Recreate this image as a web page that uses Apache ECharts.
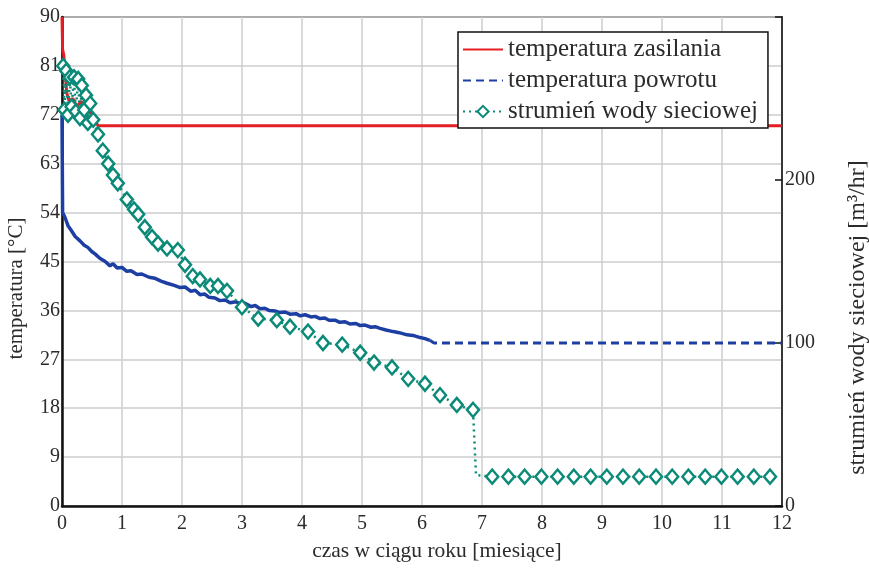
<!DOCTYPE html>
<html>
<head>
<meta charset="utf-8">
<script src="https://cdn.jsdelivr.net/npm/echarts@6/dist/echarts.min.js"></script>
<style>
html,body{margin:0;padding:0;background:#fff;}
#c{width:869px;height:568px;}
</style>
</head>
<body>
<div id="c"></div>
<script>
// ---- data (months, °C, m3/hr) ----
const xTicks = [0,1,2,3,4,5,6,7,8,9,10,11,12];
const leftTicks = [0,9,18,27,36,45,54,63,72,81,90];
const rightTicks = [0,100,200];

const supplyX = [0, 0.01, 0.03, 0.05, 0.08, 0.12, 0.18, 0.25, 0.32, 0.40, 0.48, 0.55, 0.60, 12];
const supplyY = [90, 84, 83, 80, 76, 74.5, 75, 73.5, 74.5, 73, 72.5, 71, 70, 70];

// measured (noisy) part of return temperature
const returnX = [0, 0.01, 0.05, 0.10, 0.15, 0.22, 0.30, 0.37, 0.43, 0.50, 0.55, 0.63, 0.72, 0.80, 0.85, 0.92, 1.00, 1.08, 1.15, 1.25, 1.33, 1.45, 1.55, 1.65, 1.75, 1.87, 1.97, 2.05, 2.15, 2.22, 2.30, 2.38, 2.45, 2.55, 2.63, 2.72, 2.80, 2.90, 2.97, 3.05, 3.15, 3.22, 3.30, 3.38, 3.45, 3.55, 3.63, 3.72, 3.80, 3.90, 3.97, 4.05, 4.15, 4.22, 4.30, 4.38, 4.45, 4.55, 4.63, 4.72, 4.80, 4.90, 4.97, 5.05, 5.15, 5.22, 5.30, 5.40, 5.52, 5.62, 5.75, 5.85, 5.97, 6.05, 6.13];
const returnY = [72, 54, 53.1, 51.6, 50.8, 49.6, 48.8, 48.0, 47.6, 46.8, 46.4, 45.6, 45.0, 44.2, 44.6, 43.8, 43.9, 43.2, 43.3, 42.6, 42.7, 42.1, 41.9, 41.4, 41.0, 40.6, 40.2, 40.3, 39.5, 39.7, 38.9, 39.0, 38.4, 38.3, 37.8, 37.9, 37.4, 37.6, 37.2, 37.3, 36.7, 36.9, 36.3, 36.4, 36.0, 35.9, 35.6, 35.7, 35.3, 35.4, 35.0, 35.2, 34.8, 34.9, 34.5, 34.6, 34.2, 34.2, 33.8, 33.9, 33.5, 33.6, 33.2, 33.3, 32.9, 33.0, 32.7, 32.4, 32.1, 31.9, 31.5, 31.4, 31.0, 30.8, 30.5];
// constant tail of return temperature
const returnTailX = [6.13, 6.20, 12];
const returnTailY = [30.5, 30.0, 30.0];

const flowX = [0.02, 0.04, 0.07, 0.10, 0.13, 0.16, 0.20, 0.23, 0.27, 0.30, 0.33, 0.37, 0.40, 0.43, 0.47, 0.52, 0.60, 0.68, 0.77, 0.85, 0.93, 1.08, 1.20, 1.27, 1.38, 1.50, 1.60, 1.75, 1.93, 2.05, 2.18, 2.30, 2.47, 2.60, 2.75, 3.00, 3.27, 3.58, 3.80, 4.10, 4.35, 4.67, 4.97, 5.20, 5.50, 5.77, 6.05, 6.30, 6.58, 6.85, 6.90, 7.17, 7.44, 7.71, 7.99, 8.26, 8.53, 8.81, 9.08, 9.35, 9.62, 9.90, 10.17, 10.44, 10.72, 10.99, 11.26, 11.53, 11.80];
const flowY = [270, 243, 267, 240, 263, 245, 263, 242, 262, 238, 258, 243, 252, 235, 247, 237, 228, 218, 210, 203, 198, 188, 182, 179, 171, 165, 161, 158, 157, 148, 141, 139, 135, 135, 132, 122, 115, 114, 110, 107, 100, 99, 94, 88, 85, 78, 75, 68, 62, 59, 19, 18, 18, 18, 18, 18, 18, 18, 18, 18, 18, 18, 18, 18, 18, 18, 18, 18, 18];
const flowNoMarker = [6.90];

const names = ['temperatura zasilania', 'temperatura powrotu', 'strumień wody sieciowej'];

// ---- chart ----
const FONT = 'Liberation Serif';
const TXT = '#2b2b2b';
const RED = '#e31e24';
const BLUE = '#1d3fa3';
const TEAL = '#0b8a78';

const zip = (xs, ys) => xs.map((x, i) => [x, ys[i]]);
const flowData = flowX.map((x, i) => flowNoMarker.includes(x)
  ? { value: [x, flowY[i]], symbol: 'none' }
  : [x, flowY[i]]);

const chart = echarts.init(document.getElementById('c'), null, { renderer: 'canvas' });
chart.setOption({
  animation: false,
  backgroundColor: '#fff',
  textStyle: { fontFamily: FONT, color: TXT },
  grid: { left: 62, right: 87, top: 17, bottom: 62, show: true, borderColor: '#111', borderWidth: 1.5,
          containLabel: false, outerBoundsMode: 'none' },
  legend: {
    data: [
      { name: names[0], itemStyle: { opacity: 0 } },
      { name: names[1], itemStyle: { opacity: 0 } },
      { name: names[2] }
    ],
    orient: 'vertical',
    left: 458, top: 32,
    backgroundColor: '#fff',
    borderColor: '#111', borderWidth: 1.5, borderRadius: 0,
    padding: [5, 10, 4, 4],
    itemGap: 6, itemWidth: 40, itemHeight: 14,
    textStyle: { fontFamily: FONT, fontSize: 25, color: TXT }
  },
  xAxis: {
    type: 'value', min: xTicks[0], max: xTicks[xTicks.length - 1], interval: 1,
    name: 'czas w ciągu roku [miesiące]', nameLocation: 'middle', nameGap: 34,
    nameTextStyle: { fontFamily: FONT, fontSize: 21.5, color: TXT, padding: [0, 0, 0, 30] },
    axisLine: { show: true, onZero: false, lineStyle: { color: '#111', width: 2.5 } },
    axisTick: { show: false },
    axisLabel: { fontFamily: FONT, fontSize: 20, color: TXT, margin: 8 },
    splitLine: { show: true, lineStyle: { color: '#cccccc', width: 1.5 } }
  },
  yAxis: [{
    type: 'value', min: leftTicks[0], max: leftTicks[leftTicks.length - 1], interval: 9,
    name: 'temperatura [°C]', nameLocation: 'middle', nameGap: 35, nameRotate: 90,
    nameTextStyle: { fontFamily: FONT, fontSize: 21, color: TXT, padding: [0, 54, 0, 0] },
    axisLine: { show: true, onZero: false, lineStyle: { color: '#111', width: 2.5 } },
    axisTick: { show: false },
    axisLabel: { fontFamily: FONT, fontSize: 20, color: TXT, margin: 2 },
    splitLine: { show: true, lineStyle: { color: '#cccccc', width: 1.5 } }
  }, {
    type: 'value', position: 'right', min: 0, max: 300, interval: 100,
    name: 'strumień wody sieciowej [m³/hr]', nameLocation: 'middle', nameGap: 64, nameRotate: 90,
    nameTextStyle: { fontFamily: FONT, fontSize: 24, color: TXT, padding: [0, 112, 0, 0] },
    axisLine: { show: true, onZero: false, lineStyle: { color: '#111', width: 1.5 } },
    axisTick: { show: true, inside: true, length: 7, lineStyle: { color: '#111', width: 1.5 } },
    axisLabel: { fontFamily: FONT, fontSize: 20, color: TXT, margin: 3,
      formatter: v => rightTicks.includes(v) ? String(v) : '' },
    splitLine: { show: false }
  }],
  series: [{
    name: names[0], type: 'line', yAxisIndex: 0,
    data: zip(supplyX, supplyY), showSymbol: false, symbol: 'none',
    lineStyle: { color: RED, width: 3 }, itemStyle: { color: RED }, z: 3
  }, {
    name: names[1], type: 'line', yAxisIndex: 0,
    data: zip(returnTailX, returnTailY), showSymbol: false, symbol: 'none',
    lineStyle: { color: BLUE, width: 3, type: [8, 5] }, itemStyle: { color: BLUE }, z: 4
  }, {
    name: names[1], type: 'line', yAxisIndex: 0,
    data: zip(returnX, returnY), showSymbol: false, symbol: 'none',
    lineStyle: { color: BLUE, width: 3.5 }, itemStyle: { color: BLUE }, z: 4
  }, {
    name: names[2], type: 'line', yAxisIndex: 1,
    data: flowData, symbol: 'diamond', symbolSize: [12, 14], showAllSymbol: true,
    lineStyle: { color: TEAL, width: 2.5, type: [2, 4] },
    itemStyle: { color: '#fff', borderColor: TEAL, borderWidth: 2.5 }, z: 5
  }]
});
</script>
</body>
</html>
